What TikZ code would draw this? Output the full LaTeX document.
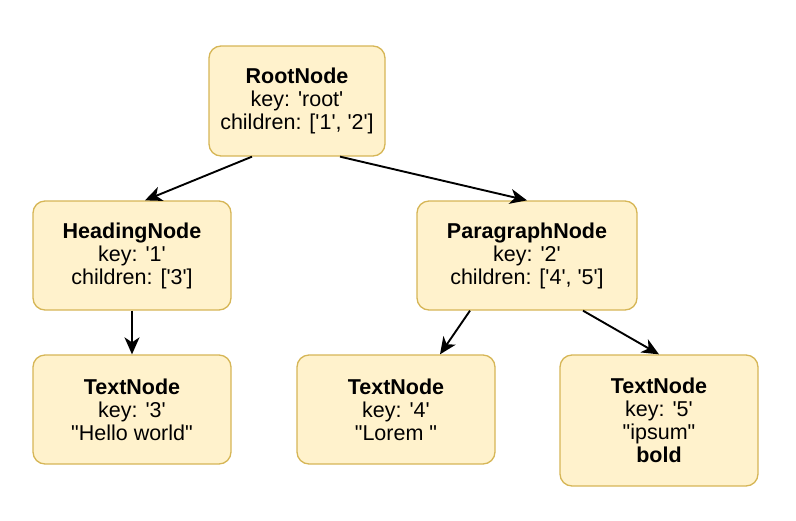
\documentclass[tikz,border=0pt]{standalone}
\usepackage{fontspec}
\setmainfont{Liberation Sans}[Ligatures=TeXOff]
\usetikzlibrary{arrows.meta,calc}
\definecolor{nodefill}{HTML}{FFF2CC}
\definecolor{nodeline}{HTML}{D6B656}
\begin{document}
\begin{tikzpicture}[x=1pt,y=-1pt,
  box/.style={draw=nodeline,fill=nodefill,line width=1.3pt,rounded corners=12pt,
    align=center,inner sep=0pt,font=\fontsize{21.5}{23}\selectfont},
  conn/.style={line width=1.9pt,-{Stealth[length=17pt,width=15pt,inset=5pt]}}]
\useasboundingbox (0,0) rectangle (796,520);
\node[box,minimum width=176pt,minimum height=110pt] (root) at (297,101)
  {\textbf{RootNode}\\key: 'root'\\children: ['1', '2']};
\node[box,minimum width=198pt,minimum height=109pt] (head) at (132,255.5)
  {\textbf{HeadingNode}\\key: '1'\\children: ['3']};
\node[box,minimum width=220pt,minimum height=109pt] (para) at (527,255.5)
  {\textbf{ParagraphNode}\\key: '2'\\children: ['4', '5']};
\node[box,minimum width=198pt,minimum height=109pt] (t3) at (132,409.5)
  {\textbf{TextNode}\\key: '3'\\"Hello world"};
\node[box,minimum width=198pt,minimum height=109pt] (t4) at (396,409.5)
  {\textbf{TextNode}\\key: '4'\\"Lorem "};
\node[box,minimum width=198pt,minimum height=131pt] (t5) at (659,420.5)
  {\textbf{TextNode}\\key: '5'\\"ipsum"\\\textbf{bold}};
\draw[conn] ($(root.south)+(-45,0)$) -- ($(head.north)+(13,0)$);
\draw[conn] ($(root.south)+(43,0)$) -- (para.north);
\draw[conn] (head.south) -- (t3.north);
\draw[conn] ($(para.south)+(-57,0)$) -- ($(t4.north)+(44,0)$);
\draw[conn] ($(para.south)+(56,0)$) -- (t5.north);
\end{tikzpicture}
\end{document}
